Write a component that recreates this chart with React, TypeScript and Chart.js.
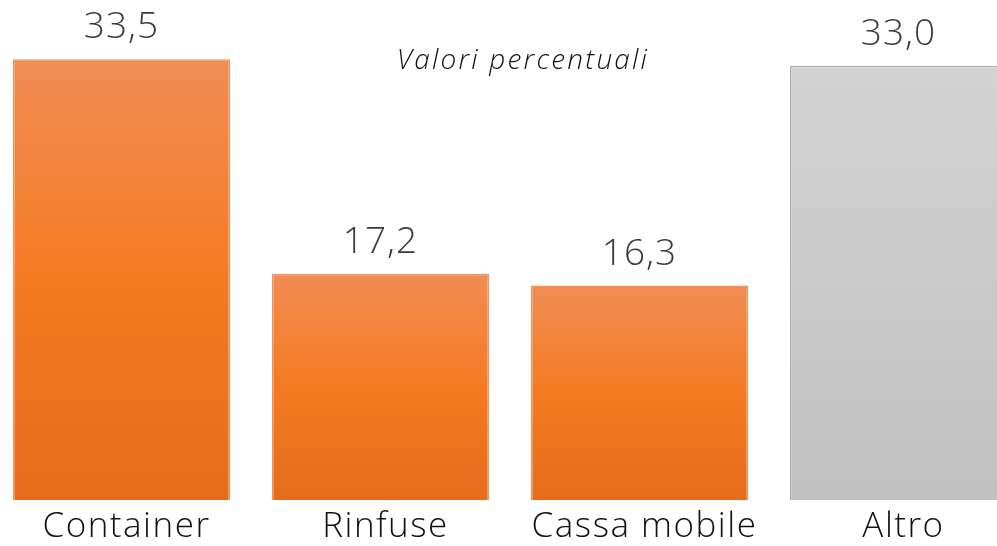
import React, { useEffect, useRef } from "react";
import { Chart, registerables } from "chart.js";

Chart.register(...registerables);

const categories = ["Container", "Rinfuse", "Cassa mobile", "Altro"];
const values = [33.5, 17.2, 16.3, 33.0];
const colorGroups = ["orange", "orange", "orange", "grey"];
const titleText = "Valori percentuali";

const FONT = "'Open Sans', Lato, sans-serif";

export default function App() {
  const ref = useRef<HTMLCanvasElement | null>(null);

  useEffect(() => {
    if (!ref.current) return;
    const labelsPlugin = {
      id: "labelsPlugin",
      afterDatasetsDraw(chart: any) {
        const ctx = chart.ctx;
        const meta = chart.getDatasetMeta(0);
        const xScale = chart.scales.x;
        ctx.save();
        ctx.textAlign = "center";
        ctx.textBaseline = "alphabetic";
        meta.data.forEach((bar: any, i: number) => {
          ctx.fillStyle = "#3A3A3A";
          ctx.font = `300 37px ${FONT}`;
          ctx.letterSpacing = "1px";
          ctx.fillText(values[i].toFixed(1).replace(".", ","), bar.x, bar.y - 21);
          ctx.fillStyle = "#111111";
          ctx.font = `300 35px ${FONT}`;
          ctx.letterSpacing = "1.5px";
          ctx.fillText(categories[i], xScale.getPixelForValue(i) + 5, 537);
        });
        ctx.fillStyle = "#111111";
        ctx.font = `italic 300 28px ${FONT}`;
        ctx.letterSpacing = "2.2px";
        ctx.fillText(titleText, 531, 69);
        ctx.restore();
      },
    };

    const chart = new Chart(ref.current, {
      type: "bar",
      data: {
        labels: categories,
        datasets: [
          {
            data: values,
            backgroundColor: (c: any) => {
              const chartObj = c.chart;
              const ca = chartObj.chartArea;
              const y = chartObj.scales.y;
              const grey = colorGroups[c.dataIndex] === "grey";
              if (!ca || !y || c.dataIndex === undefined) return grey ? "#C9C9C9" : "#F27B25";
              const top = y.getPixelForValue(values[c.dataIndex]);
              const bottom = y.getPixelForValue(0);
              const g = chartObj.ctx.createLinearGradient(0, top, 0, bottom);
              if (grey) {
                g.addColorStop(0, "#D3D3D3");
                g.addColorStop(0.5, "#CACACA");
                g.addColorStop(1, "#C1C1C1");
              } else {
                g.addColorStop(0, "#F08D55");
                g.addColorStop(0.5, "#F47B22");
                g.addColorStop(1, "#E56C1C");
              }
              return g;
            },
            borderColor: colorGroups.map((g) => (g === "grey" ? "#ABABAB" : "#F3915A")),
            borderWidth: 1.5,
            barPercentage: 0.838,
            categoryPercentage: 1,
          },
        ],
      },
      options: {
        responsive: false,
        animation: false,
        layout: { padding: { top: 0, bottom: 46, left: 0, right: 0 } },
        plugins: {
          legend: { display: false },
          tooltip: { enabled: false },
          title: { display: false },
        },
        scales: {
          x: { display: false, grid: { display: false } },
          y: { display: false, min: 0, max: 38, grid: { display: false } },
        },
      },
      plugins: [labelsPlugin],
    });
    return () => chart.destroy();
  }, []);

  return (
    <div
      style={{
        position: "fixed",
        left: 0,
        top: 0,
        width: 997,
        height: 546,
        overflow: "hidden",
        background: "#ffffff",
      }}
    >
      <canvas
        ref={ref}
        width={1036}
        height={546}
        style={{ position: "absolute", left: -8, top: 0, width: 1036, height: 546 }}
      />
    </div>
  );
}
